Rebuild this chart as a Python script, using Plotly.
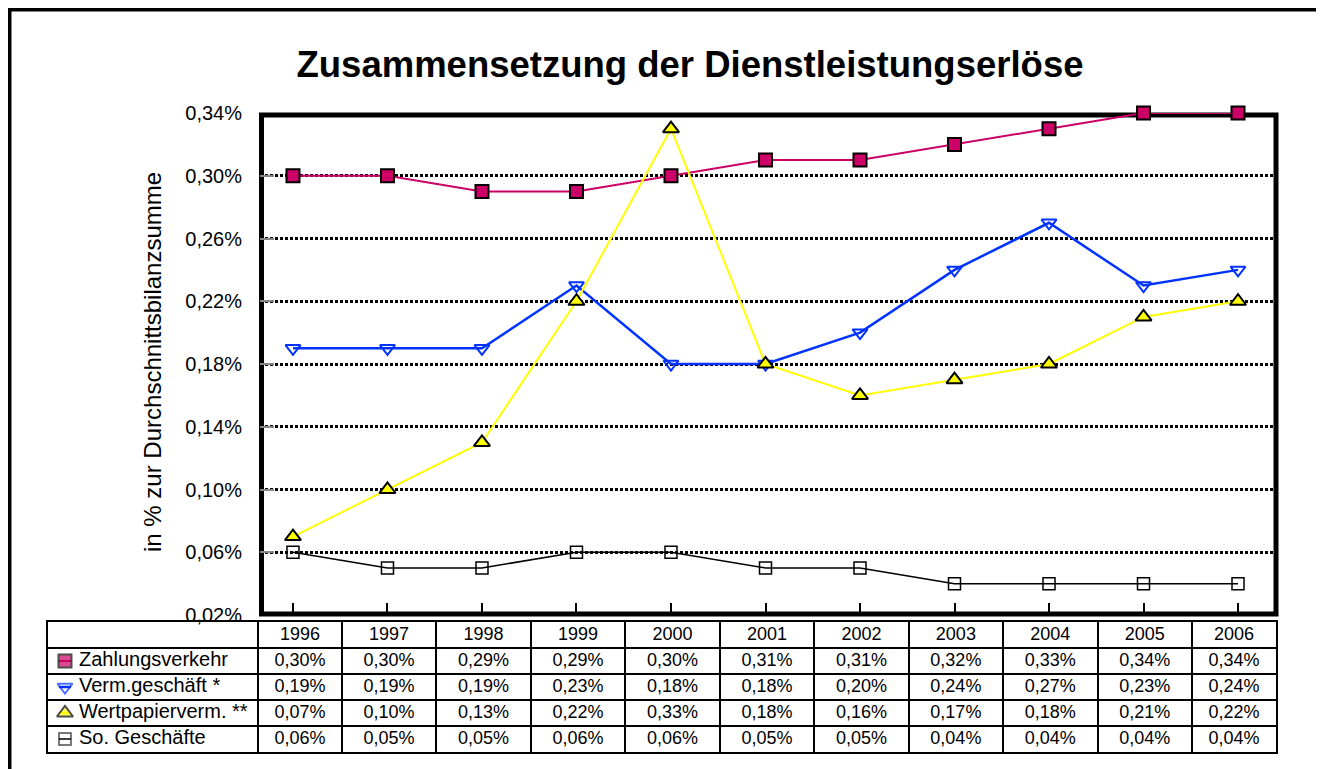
import plotly.graph_objects as go

# ---------------- data ----------------
years = ["1996", "1997", "1998", "1999", "2000", "2001", "2002", "2003", "2004", "2005", "2006"]
series_names = ["Zahlungsverkehr", "Verm.geschäft *", "Wertpapierverm. **", "So. Geschäfte"]
zahlungsverkehr = [0.30, 0.30, 0.29, 0.29, 0.30, 0.31, 0.31, 0.32, 0.33, 0.34, 0.34]
verm_geschaeft = [0.19, 0.19, 0.19, 0.23, 0.18, 0.18, 0.20, 0.24, 0.27, 0.23, 0.24]
wertpapierverm = [0.07, 0.10, 0.13, 0.22, 0.33, 0.18, 0.16, 0.17, 0.18, 0.21, 0.22]
so_geschaefte = [0.06, 0.05, 0.05, 0.06, 0.06, 0.05, 0.05, 0.04, 0.04, 0.04, 0.04]
y_ticks = [0.02, 0.06, 0.10, 0.14, 0.18, 0.22, 0.26, 0.30, 0.34]
y_tick_labels = ["0,02%", "0,06%", "0,10%", "0,14%", "0,18%", "0,22%", "0,26%", "0,30%", "0,34%"]
title_text = "Zusammensetzung der Dienstleistungserlöse"
y_title = "in % zur Durchschnittsbilanzsumme"

# ---------------- layout helpers ----------------
# The page body has an 8px margin, so the figure is sized to fit the
# 1324x769 window and positions below are given in window pixels.
OFF = 8
W, H = 1324 - OFF, 769 - OFF
FONT = "Arial, Liberation Sans, Helvetica, sans-serif"


def fx(px):
    return (px - OFF) / W


def fy(py):
    return 1 - (py - OFF) / H


styles = [
    dict(color="#CC0066", symbol="square", size=13, mline=dict(color="black", width=2), lw=2),
    dict(color="#0033FF", symbol="triangle-down-open", size=13, mline=dict(color="#0033FF", width=2), lw=2.5),
    dict(color="#FFFF00", symbol="triangle-up", size=14, mline=dict(color="black", width=2), lw=2),
    dict(color="black", symbol="square-open", size=12, mline=dict(color="black", width=1.5), lw=1.5),
]
all_series = [zahlungsverkehr, verm_geschaeft, wertpapierverm, so_geschaefte]

fig = go.Figure()

for name, vals, st in zip(series_names, all_series, styles):
    fig.add_trace(go.Scatter(
        x=years, y=vals, name=name, mode="lines+markers",
        line=dict(color=st["color"], width=st["lw"]),
        marker=dict(symbol=st["symbol"], size=st["size"], color=st["color"], line=st["mline"]),
        showlegend=False, xaxis="x", yaxis="y", cliponaxis=False,
    ))

# ---------------- data table (drawn on its own axes) ----------------
col_widths = [210, 84] + [94.5] * 9 + [84]
edges = [0]
for w in col_widths:
    edges.append(edges[-1] + w)
centers = [(edges[i] + edges[i + 1]) / 2 for i in range(len(col_widths))]
n_rows = 1 + len(series_names)

# header
fig.add_trace(go.Scatter(
    x=centers[1:], y=[0.5] * len(years), text=years, mode="text",
    textfont=dict(family=FONT, size=18, color="black"), textposition="middle center",
    showlegend=False, xaxis="x3", yaxis="y3", hoverinfo="skip",
))
for r, (name, vals, st) in enumerate(zip(series_names, all_series, styles)):
    yrow = r + 1.5
    fig.add_trace(go.Scatter(
        x=centers[1:], y=[yrow] * len(vals),
        text=[f"{v:.2f}%".replace(".", ",") for v in vals], mode="text",
        textfont=dict(family=FONT, size=18, color="black"), textposition="middle center",
        showlegend=False, xaxis="x3", yaxis="y3", hoverinfo="skip",
    ))
    # legend key
    fig.add_trace(go.Scatter(
        x=[11, 17, 23], y=[yrow] * 3, mode="lines+markers",
        line=dict(color=st["color"], width=st["lw"]),
        marker=dict(symbol=st["symbol"], size=[0, st["size"], 0], color=st["color"], line=st["mline"]),
        showlegend=False, xaxis="x3", yaxis="y3", hoverinfo="skip",
    ))
    fig.add_trace(go.Scatter(
        x=[31], y=[yrow], text=[name], mode="text",
        textfont=dict(family=FONT, size=20, color="black"), textposition="middle right",
        showlegend=False, xaxis="x3", yaxis="y3", hoverinfo="skip",
    ))

fig.update_layout(
    width=W, height=H, autosize=False,
    margin=dict(l=0, r=0, t=0, b=0, pad=0, autoexpand=False),
    paper_bgcolor="white", plot_bgcolor="white",
    font=dict(family=FONT, color="black"),
    title=dict(text=f"<b>{title_text}</b>", x=fx(690), y=fy(64), xanchor="center", yanchor="middle",
               font=dict(family=FONT, size=36.5, color="black")),
    xaxis=dict(domain=[fx(260), fx(1276)], type="category", range=[-0.349, 10.402],
               showticklabels=False, ticks="inside", ticklen=12, tickwidth=2, tickcolor="black",
               showgrid=False, zeroline=False, showline=False, anchor="y", fixedrange=True,
               automargin=False),
    yaxis=dict(domain=[fy(615), fy(113)], range=[0.02, 0.34], tickmode="array",
               tickvals=y_ticks, ticktext=y_tick_labels, ticks="inside", ticklen=14, tickwidth=2,
               tickcolor="#888888", showgrid=True, gridcolor="black", gridwidth=2.5,
               griddash="3px,2px", zeroline=False, showline=False, anchor="x",
               tickfont=dict(family=FONT, size=20, color="black"), ticklabelstandoff=17,
               fixedrange=True, automargin=False),
    xaxis3=dict(domain=[fx(48), fx(1276)], range=[0, edges[-1]], tickvals=edges[1:-1],
                showticklabels=False, ticks="", showgrid=True, gridcolor="black", gridwidth=1.5,
                zeroline=False, showline=True, mirror=True, linecolor="black", linewidth=2,
                anchor="y3", fixedrange=True, automargin=False),
    yaxis3=dict(domain=[fy(752), fy(622)], range=[n_rows, 0], tickvals=list(range(1, n_rows)),
                showticklabels=False, ticks="", showgrid=True, gridcolor="black", gridwidth=1.5,
                zeroline=False, showline=True, mirror=True, linecolor="black", linewidth=2,
                anchor="x3", fixedrange=True, automargin=False),
    annotations=[dict(text=y_title, textangle=-90, x=fx(153), y=fy(362), xref="paper", yref="paper",
                      showarrow=False, xanchor="center", yanchor="middle",
                      font=dict(family=FONT, size=24, color="black"))],
    shapes=[
        dict(type="rect", xref="paper", yref="paper", x0=fx(261.5), x1=fx(1276), y0=fy(614), y1=fy(115),
             line=dict(color="black", width=5), layer="below"),
        dict(type="rect", xref="paper", yref="paper", x0=fx(8.5), x1=fx(1322), y0=fy(8.5), y1=-0.05,
             line=dict(color="black", width=6), layer="above"),
    ],
)

fig.write_html("out.html")
